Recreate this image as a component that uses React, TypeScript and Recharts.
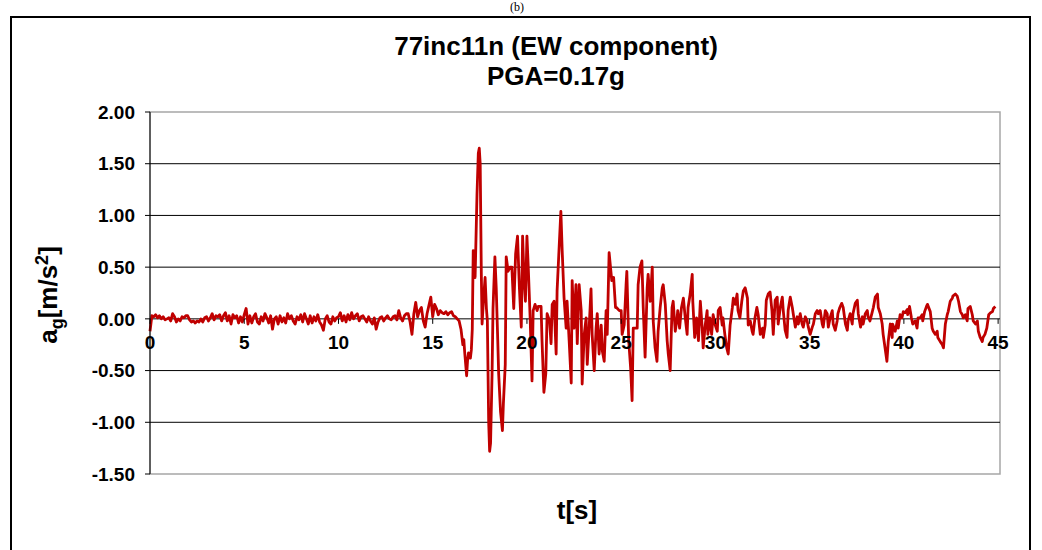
import React from "react";
import {
  Line,
  LineChart,
  ReferenceArea,
  ReferenceDot,
  ReferenceLine,
  XAxis,
  YAxis
} from "recharts";

const FONT = "'Liberation Sans', Arial, sans-serif";
const TRACE = "#c00000";

// pre-event noise, sampled every 0.1 s from t = 0
const QUIET_DT = 0.1;
const quietAccel = [
  -0.12, 0.03, 0.02, 0.04, 0.01, 0.03, 0.0, 0.02, -0.01, 0.0,
  0.01, -0.02, 0.05, 0.02, -0.03, 0.0, -0.02, 0.02, 0.01, 0.03,
  0.03, -0.01, -0.03, -0.02, -0.04, -0.02, -0.03, 0.0, -0.03, 0.01,
  0.02, -0.02, 0.01, 0.05, -0.01, 0.03, 0.02, 0.04, -0.02, 0.03,
  0.06, -0.02, 0.03, -0.05, 0.04, 0.01, 0.03, -0.04, 0.02, -0.03,
  0.04, 0.1, -0.05, 0.03, -0.04, 0.02, 0.05, -0.03, -0.05, 0.02,
  -0.02, 0.05, 0.01, -0.04, 0.03, -0.1, 0.0, 0.02, -0.05, 0.03,
  -0.03, 0.01, -0.04, 0.05, 0.0, 0.03, -0.02, -0.05, 0.02, -0.01,
  0.04, -0.03, 0.05, 0.0, -0.05, 0.03, -0.04, 0.02, -0.02, 0.04,
  -0.03, -0.06, -0.11, 0.0, 0.03, -0.03, -0.05, 0.02, -0.02, 0.01,
  0.02, 0.06, -0.02, 0.03, -0.03, 0.04, -0.01, 0.06, 0.0, 0.03,
  0.05, -0.02, 0.02, 0.03, 0.0, -0.03, 0.02, -0.02, -0.05, 0.01,
  -0.1, -0.03, 0.01, 0.02, -0.02, 0.01, 0.03, 0.0, -0.01, 0.02,
  0.03, -0.01, 0.08, 0.01, -0.02, 0.03, 0.05, 0.05, -0.03, -0.15,
  0.05, 0.16, 0.02, 0.08, 0.11, -0.02, -0.08, 0.05, 0.13, 0.21,
  0.02, 0.14, 0.1, 0.04, 0.08, 0.06, 0.05, 0.07, 0.04, 0.06,
  0.07, 0.03, 0.02, 0.0, -0.02
];

// strong motion, read point by point
const strongTimes = [
  16.5, 16.6, 16.65, 16.7, 16.8, 16.85, 16.9, 17.0, 17.05, 17.1,
  17.15, 17.2, 17.25, 17.35, 17.42, 17.47, 17.52, 17.58, 17.62, 17.7,
  17.78, 17.85, 17.9, 17.97, 18.02, 18.07, 18.15, 18.2, 18.3, 18.37,
  18.45, 18.5, 18.6, 18.7, 18.75, 18.85, 18.9, 19.0, 19.1, 19.2,
  19.3, 19.4, 19.5, 19.6, 19.7, 19.77, 19.85, 19.92, 20.0, 20.07,
  20.17, 20.27, 20.33, 20.43, 20.54, 20.6, 20.75, 20.8, 20.9, 21.0,
  21.07, 21.2, 21.28, 21.34, 21.44, 21.55, 21.6, 21.7, 21.8, 21.87,
  21.97, 22.08, 22.13, 22.24, 22.35, 22.4, 22.5, 22.6, 22.67, 22.77,
  22.88, 22.93, 23.04, 23.14, 23.2, 23.3, 23.4, 23.46, 23.57, 23.67,
  23.73, 23.83, 23.94, 24.0, 24.1, 24.2, 24.26, 24.36, 24.47, 24.5,
  24.6, 24.7, 24.75, 24.9, 25.0, 25.05, 25.16, 25.26, 25.3, 25.4,
  25.5, 25.58, 25.64, 25.74, 25.85, 25.9
];
const strongAccel = [
  -0.1, -0.25, -0.2, -0.33, -0.55, -0.4, -0.33, -0.38, -0.3, -0.1,
  0.66, 0.5, 0.4, 1.2, 1.6, 1.65, 1.5, 0.43, -0.05, 0.2,
  0.4, 0.1, -0.02, -1.0, -1.28, -1.2, -0.53, 0.1, 0.6, 0.3,
  -0.2, -0.53, -0.9, -1.08, -0.82, -0.44, 0.6, 0.46, 0.5, 0.5,
  0.1, 0.63, 0.8, 0.3, -0.08, 0.8, 0.37, 0.17, 0.8, 0.5,
  0.01, -0.6, 0.08, 0.14, 0.08, 0.12, 0.12, -0.21, -0.71, -0.53,
  0.05, -0.02, -0.24, 0.14, 0.17, -0.34, 0.27, 0.66, 1.04, 0.66,
  0.2, -0.09, 0.17, -0.21, -0.62, 0.37, -0.09, 0.33, -0.24, 0.33,
  0.08, -0.63, -0.15, 0.01, -0.44, -0.09, 0.29, -0.15, -0.5, -0.09,
  0.05, -0.34, -0.06, -0.31, -0.41, 0.08, -0.15, 0.64, 0.43, 0.37,
  0.4, 0.11, 0.11, 0.08, 0.08, -0.15, -0.06, 0.33, 0.46, -0.21,
  -0.47, -0.79, -0.09, -0.09, -0.09, 0.33
];

// coda
const codaTimes = [
  26.0, 26.1, 26.17, 26.27, 26.38, 26.43, 26.54, 26.65, 26.7, 26.8,
  26.9, 26.96, 27.07, 27.18, 27.23, 27.34, 27.44, 27.5, 27.6, 27.7,
  27.76, 27.87, 27.97, 28.0, 28.1, 28.2, 28.3, 28.4, 28.5, 28.55,
  28.66, 28.77, 28.8, 28.9, 29.0, 29.1, 29.2, 29.3, 29.35, 29.46,
  29.56, 29.6, 29.7, 29.8, 29.88, 29.99, 30.1, 30.15, 30.25, 30.36,
  30.4, 30.5, 30.6, 30.68, 30.78, 30.9, 30.95, 31.05, 31.15, 31.2,
  31.3, 31.4, 31.48, 31.58, 31.7, 31.74, 31.85, 31.95, 32.0, 32.1,
  32.2, 32.27, 32.38, 32.5, 32.54, 32.64, 32.7, 32.8, 32.9, 33.0,
  33.07, 33.17, 33.28, 33.33, 33.44, 33.55, 33.6, 33.7, 33.8, 33.86,
  33.97, 34.08, 34.13, 34.24, 34.34, 34.4, 34.5, 34.6, 34.66, 34.77,
  34.87, 34.93, 35.03, 35.14, 35.2, 35.3, 35.4, 35.46, 35.56, 35.67,
  35.72, 35.83, 35.93, 35.99, 36.1, 36.2, 36.25, 36.36, 36.46, 36.5,
  36.6, 36.7, 36.78, 36.9, 37.0, 37.04, 37.15, 37.26, 37.3, 37.42,
  37.53, 37.58, 37.7, 37.8, 37.84, 37.95, 38.06, 38.1, 38.2, 38.3,
  38.38, 38.48, 38.6, 38.64, 38.75, 38.85, 38.9, 39.0, 39.1, 39.17,
  39.28, 39.38, 39.4, 39.54, 39.65, 39.7, 39.8, 39.9, 39.97, 40.07,
  40.18, 40.2, 40.3, 40.4, 40.47, 40.6, 40.7, 40.75, 40.87, 40.97,
  41.0, 41.1, 41.2, 41.25, 41.4, 41.5, 41.56, 41.67, 41.77, 41.8,
  41.93, 42.04, 42.1, 42.2, 42.3, 42.35, 42.46, 42.57, 42.6, 42.73,
  42.83, 42.9, 43.0, 43.1, 43.15, 43.26, 43.36, 43.4, 43.52, 43.63,
  43.68, 43.8, 43.9, 43.95, 44.05, 44.16, 44.2, 44.3, 44.4, 44.5,
  44.6, 44.7, 44.75, 44.85
];
const codaAccel = [
  0.5, 0.56, 0.11, -0.37, 0.3, 0.43, 0.17, 0.5, -0.02, -0.28,
  -0.41, -0.12, 0.11, 0.3, 0.33, 0.14, -0.21, -0.34, -0.5, 0.11,
  0.17, -0.12, 0.01, 0.08, -0.09, 0.11, 0.2, 0.01, -0.15, 0.11,
  0.24, 0.43, 0.17, -0.18, 0.01, -0.21, 0.17, -0.09, -0.28, -0.06,
  0.08, -0.15, 0.01, -0.15, 0.04, -0.06, -0.12, 0.08, 0.11, -0.06,
  0.01, -0.15, -0.28, -0.34, -0.06, 0.11, 0.2, 0.14, 0.24, 0.08,
  0.01, 0.17, 0.27, 0.3, 0.2, -0.06, -0.02, -0.12, -0.15, 0.01,
  0.11, 0.04, -0.15, -0.09, -0.18, -0.06, 0.18, 0.24, 0.26, 0.08,
  -0.15, 0.18, 0.21, -0.05, 0.11, 0.21, 0.08, -0.11, -0.18, 0.08,
  0.21, 0.11, 0.05, -0.08, 0.02, -0.05, 0.05, -0.05, -0.08, 0.02,
  -0.02, -0.08, -0.15, -0.08, -0.05, 0.05, 0.08, 0.05, 0.08, -0.05,
  -0.08, 0.08, 0.05, -0.08, 0.02, 0.08, -0.05, -0.11, -0.02, 0.05,
  0.11, 0.15, 0.11, -0.05, -0.11, -0.02, 0.05, -0.05, 0.05, 0.15,
  0.18, 0.05, -0.08, 0.02, -0.05, 0.05, 0.08, 0.02, -0.02, 0.05,
  0.11, 0.21, 0.24, 0.11, 0.05, -0.05, -0.15, -0.28, -0.41, -0.22,
  -0.05, -0.18, -0.05, -0.12, -0.02, -0.09, 0.04, 0.01, 0.07, 0.06,
  0.09, 0.04, 0.12, 0.01, -0.05, -0.02, -0.09, 0.01, 0.01, 0.04,
  -0.02, 0.07, 0.12, 0.14, 0.07, -0.09, -0.12, -0.15, -0.12, -0.18,
  -0.22, -0.25, -0.28, -0.05, 0.04, 0.07, 0.17, 0.2, 0.22, 0.24,
  0.22, 0.17, 0.07, 0.04, 0.01, 0.04, -0.02, 0.1, 0.12, 0.04,
  -0.02, -0.05, -0.02, -0.12, -0.18, -0.22, -0.18, -0.15, -0.09, 0.04,
  0.06, 0.07, 0.1, 0.12
];

const xTicks = [0, 5, 10, 15, 20, 25, 30, 35, 40, 45];
const yTicks = [-1.5, -1, -0.5, 0, 0.5, 1, 1.5, 2];
const innerGrid = [-1, -0.5, 0, 0.5, 1, 1.5];

const data = [
  ...quietAccel.map((a, i) => ({ t: +(i * QUIET_DT).toFixed(2), a })),
  ...strongTimes.map((t, i) => ({ t, a: strongAccel[i] })),
  ...codaTimes.map((t, i) => ({ t, a: codaAccel[i] }))
];

const boldText = { fontFamily: FONT, fontWeight: 700, color: "#000" };

function XTickMark(props: any) {
  const { cx, cy, label } = props;
  return (
    <g>
      <line x1={cx} x2={cx} y1={cy} y2={cy + 5} stroke="#000" />
      <text
        x={cx}
        y={cy + 30}
        textAnchor="middle"
        fontFamily={FONT}
        fontWeight={700}
        fontSize={19}
        fill="#000"
      >
        {label}
      </text>
    </g>
  );
}

export default function App() {
  return (
    <div
      style={{
        position: "absolute",
        left: 0,
        top: 0,
        width: 1042,
        height: 550,
        overflow: "hidden",
        background: "#fff"
      }}
    >
      <div
        style={{
          position: "absolute",
          left: 510,
          top: 0,
          fontFamily: "serif",
          fontSize: 12,
          lineHeight: "14px"
        }}
      >
        (b)
      </div>
      <div
        style={{
          position: "absolute",
          left: 10,
          top: 16,
          width: 1021,
          height: 600,
          border: "2px solid #000",
          boxSizing: "border-box"
        }}
      />

      <div
        style={{
          ...boldText,
          position: "absolute",
          left: 356,
          top: 31,
          width: 400,
          textAlign: "center",
          fontSize: 26,
          lineHeight: "30px"
        }}
      >
        77inc11n (EW component)
        <br />
        PGA=0.17g
      </div>

      <div style={{ position: "absolute", left: 0, top: 0 }}>
        <LineChart
          width={1042}
          height={550}
          data={data}
          margin={{ top: 112, right: 42, bottom: 76, left: 0 }}
        >
          <XAxis type="number" dataKey="t" domain={[0, 45.1]} hide />
          <YAxis
            type="number"
            domain={[-1.5, 2]}
            ticks={yTicks}
            width={150}
            interval={0}
            tickFormatter={(v: number) => v.toFixed(2)}
            tick={{ fill: "#000", fontSize: 19, fontWeight: 700, fontFamily: FONT }}
            tickSize={5}
            tickMargin={10}
            axisLine={{ stroke: "#000" }}
            tickLine={{ stroke: "#000" }}
          />
          <ReferenceArea
            x1={0}
            x2={45.1}
            y1={-1.5}
            y2={2}
            fill="none"
            stroke="#a6a6a6"
            strokeWidth={1.5}
          />
          {innerGrid.map((v) => (
            <ReferenceLine key={v} y={v} stroke="#000" strokeWidth={1} />
          ))}
          <Line
            type="linear"
            dataKey="a"
            stroke={TRACE}
            strokeWidth={2.8}
            strokeLinejoin="round"
            dot={false}
            isAnimationActive={false}
          />
          {xTicks.map((t) => (
            <ReferenceDot
              key={t}
              x={t}
              y={0}
              r={0}
              shape={(p: any) => <XTickMark {...p} label={t} />}
            />
          ))}
        </LineChart>
      </div>

      <div
        style={{
          ...boldText,
          position: "absolute",
          left: 50,
          top: 295,
          transform: "translate(-50%, -50%) rotate(-90deg)",
          whiteSpace: "nowrap",
          fontSize: 26
        }}
      >
        a<sub style={{ fontSize: 18 }}>g</sub>[m/s<sup style={{ fontSize: 18 }}>2</sup>]
      </div>

      <div
        style={{
          ...boldText,
          position: "absolute",
          left: 477,
          top: 495,
          width: 200,
          textAlign: "center",
          fontSize: 26,
          lineHeight: "30px"
        }}
      >
        t[s]
      </div>
    </div>
  );
}
